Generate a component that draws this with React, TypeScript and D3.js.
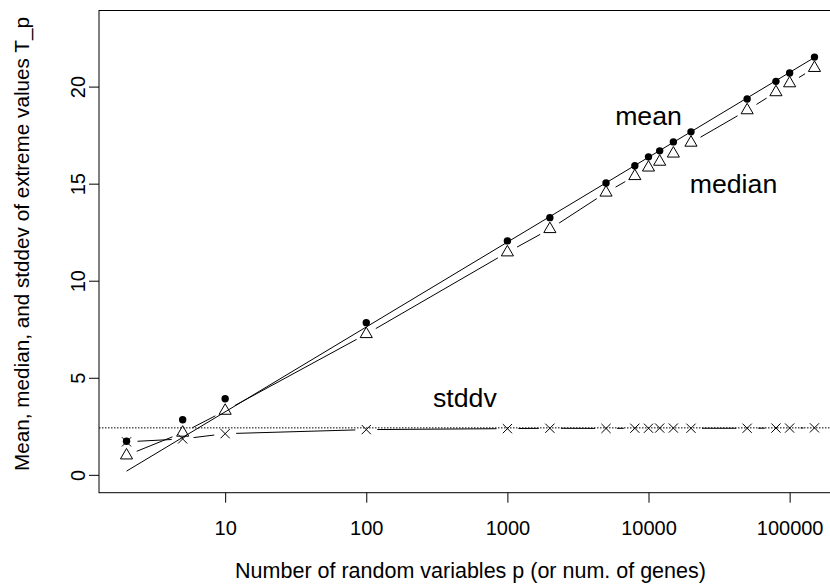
import React, { useEffect, useRef } from "react";
import * as d3 from "d3";

const WIDTH = 830;
const HEIGHT = 584;
// plot region (R style box, right edge falls just outside the picture)
const PLOT = { LEFT: 99, RIGHT: 842, TOP: 10.5, BOTTOM: 492.7 };
const FONT = "'Liberation Sans', Arial, Helvetica, sans-serif";

const pValues = [2, 5, 10, 100, 1000, 2000, 5000, 8000, 10000, 12000, 15000, 20000, 50000, 80000, 100000, 150000];
const meanValues = [1.73, 2.84, 3.92, 7.84, 12.05, 13.25, 15.04, 15.92, 16.38, 16.69, 17.15, 17.67, 19.36, 20.27, 20.7, 21.52];
const medianValues = [1.0, 2.17, 3.3, 7.25, 11.46, 12.66, 14.54, 15.39, 15.83, 16.13, 16.55, 17.11, 18.78, 19.71, 20.17, 20.96];
const stddvValues = [1.7, 1.85, 2.12, 2.33, 2.38, 2.4, 2.39, 2.4, 2.4, 2.41, 2.41, 2.4, 2.4, 2.41, 2.41, 2.42];

// fitted line for the mean (end points)
const meanFit = [
  { p: 2, value: 0.19 },
  { p: 150000, value: 21.5 },
];
const stddvLimit = 2.42;

const yLimits = [0, 23];
const yTicks = [0, 5, 10, 15, 20];
const xTicks = [10, 100, 1000, 10000, 100000];

const seriesLabels = [
  { text: "mean", p: 10000, value: 18.5 },
  { text: "median", p: 40000, value: 15 },
  { text: "stddv", p: 500, value: 4 },
];

const GAP = 11;

// R type="b": segments between points, leaving a gap round each point
function gappedSegments(pts: [number, number][]) {
  const segs: [number, number, number, number][] = [];
  for (let i = 0; i < pts.length - 1; i++) {
    const [x1, y1] = pts[i];
    const [x2, y2] = pts[i + 1];
    const dx = x2 - x1;
    const dy = y2 - y1;
    const d = Math.hypot(dx, dy);
    if (d <= 2 * GAP) continue;
    const f = GAP / d;
    segs.push([x1 + dx * f, y1 + dy * f, x2 - dx * f, y2 - dy * f]);
  }
  return segs;
}

export default function App() {
  const ref = useRef<SVGSVGElement>(null);

  useEffect(() => {
    const svg = d3.select(ref.current);
    svg.selectAll("*").remove();

    const logMin = Math.log10(d3.min(pValues)!);
    const logMax = Math.log10(d3.max(pValues)!);
    const padX = (logMax - logMin) * 0.04;
    const x = d3
      .scaleLog()
      .domain([Math.pow(10, logMin - padX), Math.pow(10, logMax + padX)])
      .range([PLOT.LEFT, PLOT.RIGHT]);

    const padY = (yLimits[1] - yLimits[0]) * 0.04;
    const y = d3
      .scaleLinear()
      .domain([yLimits[0] - padY, yLimits[1] + padY])
      .range([PLOT.BOTTOM, PLOT.TOP]);

    // box
    svg
      .append("rect")
      .attr("x", PLOT.LEFT)
      .attr("y", PLOT.TOP)
      .attr("width", PLOT.RIGHT - PLOT.LEFT)
      .attr("height", PLOT.BOTTOM - PLOT.TOP)
      .attr("fill", "none")
      .attr("stroke", "black");

    // x axis
    const xAxis = svg
      .append("g")
      .attr("transform", `translate(0,${PLOT.BOTTOM})`)
      .call(
        d3
          .axisBottom(x)
          .tickValues(xTicks)
          .tickFormat(d3.format("d"))
          .tickSize(10)
          .tickPadding(18)
      );
    xAxis.select(".domain").remove();
    xAxis.selectAll("line").attr("stroke", "black");
    xAxis
      .selectAll("text")
      .attr("fill", "black")
      .style("font-family", FONT)
      .style("font-size", "20px");

    // y axis, labels parallel to the axis
    const yAxis = svg
      .append("g")
      .attr("transform", `translate(${PLOT.LEFT},0)`)
      .call(d3.axisLeft(y).tickValues(yTicks).tickSize(10));
    yAxis.select(".domain").remove();
    yAxis.selectAll("line").attr("stroke", "black");
    yAxis
      .selectAll("text")
      .attr("fill", "black")
      .attr("transform", "rotate(-90)")
      .attr("x", 0)
      .attr("y", -14)
      .attr("dy", 0)
      .attr("text-anchor", "middle")
      .style("font-family", FONT)
      .style("font-size", "20px");

    svg
      .append("text")
      .attr("x", (PLOT.LEFT + PLOT.RIGHT) / 2)
      .attr("y", 578)
      .attr("text-anchor", "middle")
      .style("font-family", FONT)
      .style("font-size", "21.5px")
      .text("Number of random variables p (or num. of genes)");

    svg
      .append("text")
      .attr("transform", `translate(29,244) rotate(-90)`)
      .attr("text-anchor", "middle")
      .style("font-family", FONT)
      .style("font-size", "20.7px")
      .text("Mean, median, and stddev of extreme values T_p");

    // asymptote of the stddev
    svg
      .append("line")
      .attr("x1", PLOT.LEFT)
      .attr("x2", PLOT.RIGHT)
      .attr("y1", y(stddvLimit))
      .attr("y2", y(stddvLimit))
      .attr("stroke", "black")
      .attr("stroke-dasharray", "1.5,1.5");

    // mean fit
    const line = d3
      .line<{ p: number; value: number }>()
      .x((d) => x(d.p))
      .y((d) => y(d.value));
    svg
      .append("path")
      .attr("d", line(meanFit))
      .attr("fill", "none")
      .attr("stroke", "black");

    const drawGapped = (values: number[]) => {
      const pts = pValues.map((p, i) => [x(p), y(values[i])] as [number, number]);
      svg
        .append("g")
        .selectAll("line")
        .data(gappedSegments(pts))
        .enter()
        .append("line")
        .attr("x1", (s) => s[0])
        .attr("y1", (s) => s[1])
        .attr("x2", (s) => s[2])
        .attr("y2", (s) => s[3])
        .attr("stroke", "black");
    };
    drawGapped(medianValues);
    drawGapped(stddvValues);

    // mean: filled dots
    svg
      .append("g")
      .selectAll("circle")
      .data(pValues)
      .enter()
      .append("circle")
      .attr("cx", (p) => x(p))
      .attr("cy", (p, i) => y(meanValues[i]))
      .attr("r", 3.7)
      .attr("fill", "black");

    // median: open triangles (R pch 2)
    const xc = 4.5;
    const r = 1.555 * xc;
    const hw = 1.347 * xc;
    svg
      .append("g")
      .selectAll("path")
      .data(pValues)
      .enter()
      .append("path")
      .attr("d", (p, i) => {
        const cx = x(p);
        const cy = y(medianValues[i]);
        return `M${cx},${cy - r}L${cx + hw},${cy + r / 2}L${cx - hw},${cy + r / 2}Z`;
      })
      .attr("fill", "none")
      .attr("stroke", "black");

    // stddv: crosses (R pch 4)
    const s = 4.6;
    const crosses = svg.append("g");
    pValues.forEach((p, i) => {
      const cx = x(p);
      const cy = y(stddvValues[i]);
      crosses
        .append("path")
        .attr("d", `M${cx - s},${cy - s}L${cx + s},${cy + s}M${cx - s},${cy + s}L${cx + s},${cy - s}`)
        .attr("stroke", "black")
        .attr("fill", "none");
    });

    svg
      .append("g")
      .selectAll("text")
      .data(seriesLabels)
      .enter()
      .append("text")
      .attr("x", (d) => x(d.p))
      .attr("y", (d) => y(d.value))
      .attr("dy", "0.35em")
      .attr("text-anchor", "middle")
      .style("font-family", FONT)
      .style("font-size", "26.7px")
      .text((d) => d.text);
  }, []);

  return (
    <div style={{ position: "absolute", left: 0, top: 0 }}>
      <svg ref={ref} width={WIDTH} height={HEIGHT} style={{ display: "block", background: "white" }} />
    </div>
  );
}
